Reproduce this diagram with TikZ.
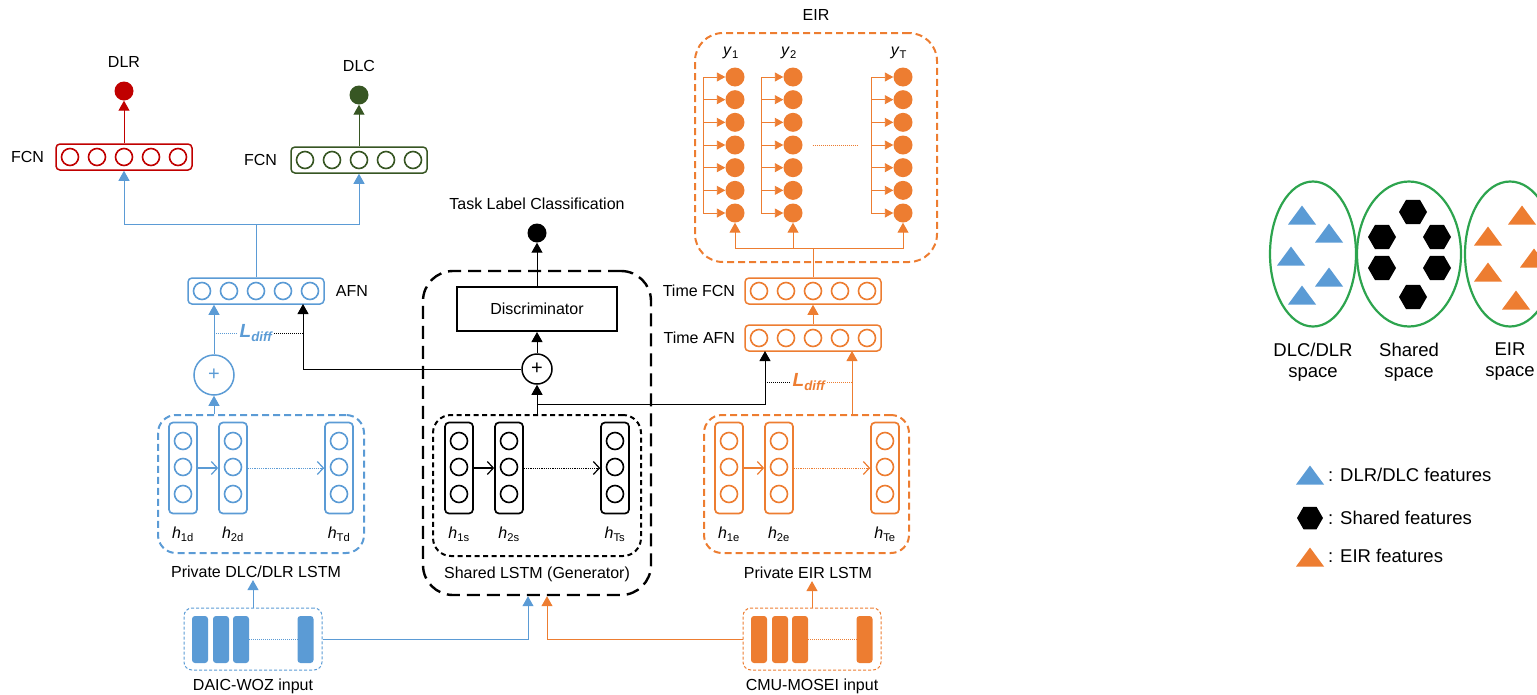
\documentclass[tikz,border=0pt]{standalone}
\usepackage{fontspec}
\setmainfont{Liberation Sans}
\usetikzlibrary{arrows.meta,positioning,shapes.geometric}

\definecolor{dblue}{HTML}{5B9BD5}
\definecolor{dorange}{HTML}{ED7D31}
\definecolor{dred}{HTML}{C00000}
\definecolor{dgreen}{HTML}{375623}
\definecolor{spacegreen}{HTML}{2DA44E}

\newcommand{\hlab}[1]{\textit{h}\textsubscript{#1}}
\newcommand{\ylab}[1]{\textit{y}\textsubscript{#1}}
\newcommand{\ldiff}{{\fontsize{19}{20}\selectfont\bfseries\itshape L\textsubscript{diff}}}

\tikzset{feat/.pic={\fill (-14,9.5) -- (14,9.5) -- (0,-9.5) -- cycle;}}

\begin{document}
\begin{tikzpicture}[x=1pt, y=-1pt, font=\fontsize{16}{19}\selectfont,
  neuron/.style={circle, draw, line width=1.6pt, minimum size=17pt, inner sep=0pt},
  eunit/.style={circle, minimum size=19pt, inner sep=0pt},
  outdot/.style={circle, minimum size=19pt, inner sep=0pt},
  layerbox/.style={rectangle, rounded corners=4pt, draw, line width=1.5pt, minimum width=136pt, minimum height=26pt},
  cellbox/.style={rectangle, rounded corners=4pt, draw, line width=1.7pt, minimum width=28pt, minimum height=91pt},
  lstmbox/.style={rectangle, rounded corners=18pt, draw, line width=2pt, dash pattern=on 7pt off 4pt, minimum width=206pt, minimum height=138pt},
  inbox/.style={rectangle, rounded corners=8pt, draw, line width=1pt, dash pattern=on 3pt off 2pt, minimum width=138pt, minimum height=62pt},
  inbar/.style={rectangle, rounded corners=3pt, minimum width=16pt, minimum height=47pt, inner sep=0pt},
  plusnode/.style={circle, draw, line width=1.5pt, inner sep=0pt, font=\fontsize{20}{20}\selectfont},
  lbl/.style={inner sep=2pt},
  link/.style={line width=1pt},
  conn/.style={line width=1pt, -{Triangle[length=10pt, width=11pt]}},
  econn/.style={line width=0.9pt, -{Triangle[length=8.5pt, width=9pt]}},
  seq/.style={line width=1.2pt, -{Straight Barb[length=6pt, width=13pt, line width=1.2pt]}},
  gap/.style={densely dotted, line width=1pt},
  featspace/.style={ellipse, draw=spacegreen, line width=2.2pt, minimum width=86pt, minimum height=145pt},
  hexa/.style={regular polygon, regular polygon sides=6, fill=black, minimum size=28pt, inner sep=0pt},
  legendtext/.style={font=\fontsize{18.5}{21}\selectfont, align=center, inner sep=0pt}]
\useasboundingbox (0,0) rectangle (1537,694);

% outputs
\node[lbl] (dlrt) at (124,62) {DLR};
\node[outdot, fill=dred] (dlr) at (124,91) {};
\node[lbl] (dlct) at (359,66) {DLC};
\node[outdot, fill=dgreen] (dlc) at (359,95) {};

% five-unit layers
\foreach \nm/\cl/\cx/\cy in {fcnr/dred/124/157, fcng/dgreen/359/160, afn/dblue/256/291, tfcn/dorange/813/291, tafn/dorange/813/338} {
  \node[layerbox, draw=\cl] (\nm) at (\cx,\cy) {};
  \foreach \i in {1,...,5}
    \node[neuron, draw=\cl] (\nm-\i) at ({\cx+27*(\i-3)},\cy) {};
}
\node[lbl, left=9pt of fcnr] (fcnrl) {FCN};
\node[lbl, left=11pt of fcng] (fcngl) {FCN};
\node[lbl, right=9pt of afn] (afnl) {AFN};
\node[lbl, left=7pt of tfcn] (tfcnl) {Time FCN};
\node[lbl, left=7pt of tafn] (tafnl) {Time AFN};

\draw[conn, dred] (fcnr) -- (dlr);
\draw[conn, dgreen] (fcng) -- (dlc);
\coordinate (afnfork) at (256,224);
\draw[link, dblue] (afn) -- (afnfork);
\draw[conn, dblue] (afnfork) -| (fcnr);
\draw[conn, dblue] (afnfork) -| (fcng);

% LSTM blocks
\node[rectangle, rounded corners=30pt, draw, line width=2.4pt, dash pattern=on 13pt off 7pt, minimum width=228pt, minimum height=324pt] (shout) at (537,433) {};
\node[lstmbox, draw=dblue] (pdbox) at (261,484) {};
\node[lstmbox, draw=black, dash pattern=on 5pt off 3.5pt, minimum width=208pt, minimum height=141pt] (shbox) at (537,485.5) {};
\node[lstmbox, draw=dorange, minimum width=205pt] (pebox) at (806.5,484) {};
\foreach \nm/\cl/\cx/\lt in {pd/dblue/261/d, sh/black/537/s, pe/dorange/807/e} {
  \foreach \k/\dx/\ix in {1/-78/1, 2/-28/2, 3/78/T} {
    \node[cellbox, draw=\cl] (\nm-c\k) at ({\cx+\dx},468) {};
    \foreach \j/\yy in {1/441, 2/467, 3/494}
      \node[neuron, draw=\cl] (\nm-c\k-\j) at ({\cx+\dx},\yy) {};
    \node[lbl] (\nm-h\k) at ({\cx+\dx},534) {\hlab{\ix\lt}};
  }
  \draw[seq, \cl] (\nm-c1) -- (\nm-c2);
  \draw[seq, \cl, gap] (\nm-c2) -- (\nm-c3);
}
\node[lbl] (pdlbl) at (256,572) {Private DLC/DLR LSTM};
\node[lbl] (shlbl) at (537,574) {Shared LSTM (Generator)};
\node[lbl] (pelbl) at (808,573) {Private EIR LSTM};

% discriminator
\node[rectangle, draw, line width=2pt, minimum width=160pt, minimum height=44pt] (disc) at (537,309) {Discriminator};
\node[plusnode, minimum size=30pt] (ps) at (537,369) {+};
\node[lbl] (taskt) at (537,204) {Task Label Classification};
\node[outdot, fill=black] (task) at (537,233) {};
\draw[conn] (shbox) -- (ps);
\draw[conn] (ps) -- (disc);
\draw[conn] (disc) -- (task);

% private DLC/DLR path
\node[plusnode, draw=dblue, text=dblue, minimum size=40pt] (pb) at (214,375) {+};
\draw[conn, dblue] (pdbox.north -| pb) -- (pb);
\draw[conn, dblue] (pb) -- (pb |- afn.south);
\coordinate (afnin) at (303,304);
\draw[conn] (ps.west) -| (afnin);
\node[lbl, text=dblue] (ldb) at (256,333) {\ldiff};
\draw[gap, dblue] (pb |- ldb) -- (ldb.west);
\draw[gap] (ldb.east) -- (ldb -| afnin);

% private EIR path
\coordinate (shfork) at (537,404);
\coordinate (tafnin) at (765,351);
\coordinate (tafnor) at (852,351);
\draw[conn] (shfork) -| (tafnin);
\draw[conn, dorange] (pebox.north -| tafnor) -- (tafnor);
\node[lbl, text=dorange] (ldo) at (809,382) {\ldiff};
\draw[gap] (tafnin |- ldo) -- (ldo.west);
\draw[gap, dorange] (ldo.east) -- (ldo -| tafnor);
\draw[conn, dorange] (tafn) -- (tfcn);

% EIR outputs
\node[rectangle, rounded corners=28pt, draw=dorange, line width=2pt, dash pattern=on 7pt off 4pt, minimum width=242pt, minimum height=229pt] (eirbox) at (816,147.5) {};
\node[lbl] (eirt) at (816,15) {EIR};
\foreach \k/\xx/\yl in {1/735/1, 2/793/2, 3/903/T} {
  \node[lbl] (y\k) at ({\xx-4},53) {\ylab{\yl}};
  \foreach \j in {1,...,7}
    \node[eunit, fill=dorange] (eu\k\j) at (\xx,{77+22.67*(\j-1)}) {};
  \draw[link, dorange, line width=0.9pt] ([xshift=-22pt]eu\k1.west) -- ([xshift=-22pt]eu\k7.west);
  \foreach \j in {1,...,7}
    \draw[econn, dorange] ([xshift=-22pt]eu\k\j.west) -- (eu\k\j);
}
\draw[gap, dorange] ([xshift=10pt]eu24.east) -- ([xshift=-36pt]eu34.west);
\coordinate (eirfork) at (813,248);
\draw[link, dorange] (tfcn) -- (eirfork);
\draw[conn, dorange] (eirfork) -| (eu17);
\draw[conn, dorange] (eirfork) -| (eu27);
\draw[conn, dorange] (eirfork) -| (eu37);

% inputs
\foreach \nm/\cl/\cx/\txt in {daic/dblue/253/DAIC-WOZ input, cmu/dorange/812/CMU-MOSEI input} {
  \node[inbox, draw=\cl] (\nm) at (\cx,639) {};
  \foreach \k/\dx in {1/-53, 2/-32, 3/-12, 4/52.5}
    \node[inbar, fill=\cl] (\nm-b\k) at ({\cx+\dx},639.5) {};
  \draw[gap, \cl] (\nm-b3) -- (\nm-b4);
  \node[lbl] (\nm-t) at (\cx,686) {\txt};
}
\draw[conn, dblue] (daic) -- (daic |- pdlbl.south);
\draw[conn, dorange] (cmu) -- (cmu |- pelbl.south);
\draw[conn, dblue] (daic) -| ([xshift=-9pt]shout.south);
\draw[conn, dorange] (cmu) -| ([xshift=10pt]shout.south);

% feature spaces
\node[featspace] (dsp) at (1313,254) {};
\node[featspace, minimum width=104pt] (ssp) at (1409,254) {};
\node[featspace, minimum width=90pt] (esp) at (1510,254) {};
\foreach \px/\py in {1302/215, 1329/233, 1291/256, 1329/277, 1302/295}
  \pic[dblue] at (\px,\py) {feat};
\foreach \px/\py [count=\i] in {1413/212, 1382/237, 1437/237, 1382/268, 1437/268, 1413/297}
  \node[hexa] (hx\i) at (\px,\py) {};
\foreach \px/\py in {1522/215, 1488/236, 1534/258, 1488/272, 1516/300}
  \pic[dorange] at (\px,\py) {feat};
\node[legendtext] (dspt) at (1313,362) {DLC/DLR\\space};
\node[legendtext] (sspt) at (1409,362) {Shared\\space};
\node[legendtext] (espt) at (1510,362) {EIR\\space};

% legend
\pic[dblue] at (1310,475) {feat};
\node[legendtext, anchor=west] (lg1) at (1328,475) {: DLR/DLC features};
\node[hexa, minimum size=26pt] (lghx) at (1310,518) {};
\node[legendtext, anchor=west] (lg2) at (1328,518) {: Shared features};
\pic[dorange] at (1310,557) {feat};
\node[legendtext, anchor=west] (lg3) at (1328,556) {: EIR features};
\end{tikzpicture}
\end{document}
